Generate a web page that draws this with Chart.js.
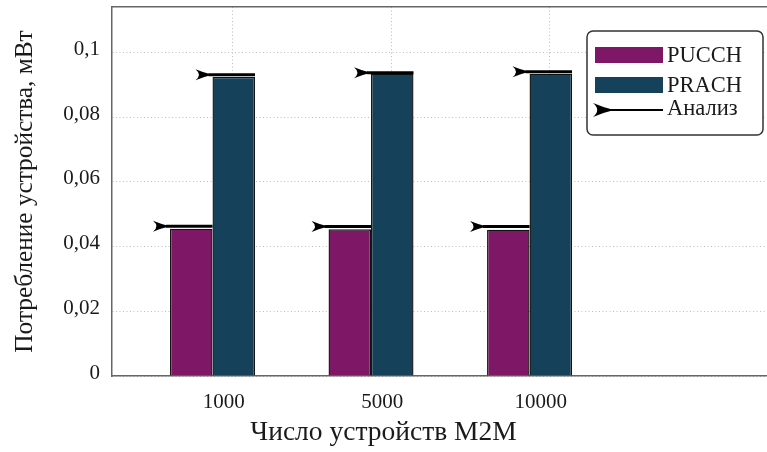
<!DOCTYPE html>
<html><head><meta charset="utf-8">
<script src="https://cdn.jsdelivr.net/npm/chart.js@4/dist/chart.umd.min.js"></script>
<style>html,body{margin:0;padding:0;background:#fff;overflow:hidden}#wrap{width:767px;height:452px;position:relative}</style>
</head><body><div id="wrap"><canvas id="c" width="767" height="452"></canvas></div>
<script>
const categories = ['1000', '5000', '10000'];
const pucch = [0.0455, 0.0453, 0.0452];
const prach = [0.0924, 0.0934, 0.0934];
const analysisPucch = [0.0463, 0.0462, 0.0462];
const analysisPrach = [0.0931, 0.0937, 0.0940];
const seriesLabels = ['PUCCH', 'PRACH', 'Анализ'];
const yTicks = [0, 0.02, 0.04, 0.06, 0.08, 0.1];
const xTitle = 'Число устройств M2M';
const yTitle = 'Потребление устройства, мВт';

const FONT = 'Liberation Serif';
const TXT = '#1a1a1a';
const PURPLE = '#7e1866';
const TEAL = '#15425a';
Chart.defaults.font.family = FONT;

function drawArrow(ctx, tipX, y, len, halfH) {
  ctx.beginPath();
  ctx.moveTo(tipX, y);
  ctx.quadraticCurveTo(tipX - len * 0.5, y - halfH * 0.35, tipX - len, y - halfH);
  ctx.quadraticCurveTo(tipX - len * 0.6, y, tipX - len, y + halfH);
  ctx.quadraticCurveTo(tipX - len * 0.5, y + halfH * 0.35, tipX, y);
  ctx.closePath();
  ctx.fill();
}

const analysisPlugin = {
  id: 'analysis',
  afterDatasetsDraw(chart) {
    const ctx = chart.ctx;
    const yScale = chart.scales.y;
    ctx.save();
    ctx.fillStyle = '#000';
    ctx.strokeStyle = '#000';
    chart.data.datasets.forEach((ds, d) => {
      const meta = chart.getDatasetMeta(d);
      meta.data.forEach((bar, i) => {
        const p = bar.getProps(['x', 'width'], true);
        const y = yScale.getPixelForValue(ds.analysis[i]);
        const x0 = p.x - p.width / 2, x1 = p.x + p.width / 2;
        ctx.lineWidth = 3;
        ctx.beginPath();
        ctx.moveTo(x0 - 4, y);
        ctx.lineTo(x1, y);
        ctx.stroke();
        drawArrow(ctx, x0, y, 17, 5.5);
      });
    });
    ctx.restore();
  }
};

const legendPlugin = {
  id: 'boxLegend',
  afterDraw(chart) {
    const ctx = chart.ctx;
    ctx.save();
    const bx = 587, by = 31, bw = 176, bh = 104, r = 6;
    ctx.beginPath();
    ctx.moveTo(bx + r, by);
    ctx.arcTo(bx + bw, by, bx + bw, by + bh, r);
    ctx.arcTo(bx + bw, by + bh, bx, by + bh, r);
    ctx.arcTo(bx, by + bh, bx, by, r);
    ctx.arcTo(bx, by, bx + bw, by, r);
    ctx.closePath();
    ctx.fillStyle = '#fff';
    ctx.fill();
    ctx.lineWidth = 1.5;
    ctx.strokeStyle = '#333';
    ctx.stroke();
    ctx.font = '22.5px ' + FONT;
    ctx.textBaseline = 'alphabetic';
    ctx.textAlign = 'left';
    const rows = [47, 77];
    chart.data.datasets.forEach((ds, d) => {
      ctx.fillStyle = ds.backgroundColor;
      ctx.fillRect(595, rows[d], 68, 16);
      ctx.fillStyle = TXT;
      ctx.fillText(ds.label, 667, rows[d] + 15);
    });
    ctx.fillStyle = '#000';
    ctx.strokeStyle = '#000';
    ctx.lineWidth = 2;
    ctx.beginPath();
    ctx.moveTo(605, 110);
    ctx.lineTo(663, 110);
    ctx.stroke();
    drawArrow(ctx, 614, 110, 21, 7);
    ctx.fillStyle = TXT;
    ctx.fillText(seriesLabels[2], 667, 114.5);
    ctx.restore();
  }
};

const barDs = (label, vals, ana, color) => ({
  label,
  data: categories.map((c, i) => ({ x: i + 1, y: vals[i] })),
  analysis: ana,
  xAxisID: 'xb',
  backgroundColor: color,
  borderColor: '#111',
  borderWidth: 1.4,
  categoryPercentage: 0.536,
  barPercentage: 1
});

const noPad = s => { s.paddingTop = 0; s.paddingBottom = 0; s.paddingLeft = 0; s.paddingRight = 0; };
const catTicks = s => { s.ticks = categories.map((c, i) => ({ value: i + 1 })); };

new Chart(document.getElementById('c'), {
  type: 'bar',
  data: {
    datasets: [
      barDs(seriesLabels[0], pucch, analysisPucch, PURPLE),
      barDs(seriesLabels[1], prach, analysisPrach, TEAL)
    ]
  },
  options: {
    responsive: false,
    animation: false,
    devicePixelRatio: 1,
    layout: { padding: { top: 7, left: 0, right: 0, bottom: 0 } },
    plugins: {
      legend: { display: false },
      tooltip: { enabled: false },
      title: {
        display: true, text: xTitle, position: 'bottom', color: TXT,
        font: { family: FONT, size: 27.5, weight: 'normal' },
        padding: { top: 0, bottom: 3 }
      }
    },
    scales: {
      xb: {
        type: 'linear', display: false, min: 0.366, max: 4.498,
        offset: false, grid: { offset: false },
        afterBuildTicks: catTicks
      },
      x: {
        type: 'linear', position: 'bottom', min: 0.2385, max: 4.371,
        offset: false,
        afterBuildTicks: catTicks,
        afterFit: s => { s.height = 40; noPad(s); },
        ticks: {
          callback: v => categories[v - 1], labelOffset: -9, padding: 14,
          autoSkip: false, maxRotation: 0, color: TXT, font: { size: 21 }
        },
        grid: { color: '#bdbdbd', lineWidth: 1, drawTicks: false, offset: false },
        border: { display: true, color: '#666', width: 1.5, dash: [1, 2.5] }
      },
      xt: {
        type: 'linear', position: 'top', min: 0, max: 1,
        ticks: { display: false },
        grid: { display: false, drawTicks: false },
        border: { display: true, color: '#666', width: 1.5 },
        afterFit: s => { s.height = 0; noPad(s); }
      },
      y: {
        min: 0, max: 0.114,
        afterBuildTicks: s => { s.ticks = yTicks.map(v => ({ value: v })); },
        afterFit: s => { s.width = 112; noPad(s); },
        ticks: {
          callback: v => String(v).replace('.', ','), padding: 12, labelOffset: -3,
          color: TXT, font: { size: 21 }
        },
        grid: { color: '#bdbdbd', lineWidth: 1, drawTicks: false },
        border: { display: true, color: '#666', width: 1.5, dash: [1, 2.5] },
        title: {
          display: true, text: yTitle, color: TXT,
          font: { family: FONT, size: 25.3 }, padding: { top: 10, bottom: 0 }
        }
      }
    }
  },
  plugins: [analysisPlugin, legendPlugin]
});
</script>
</body></html>
